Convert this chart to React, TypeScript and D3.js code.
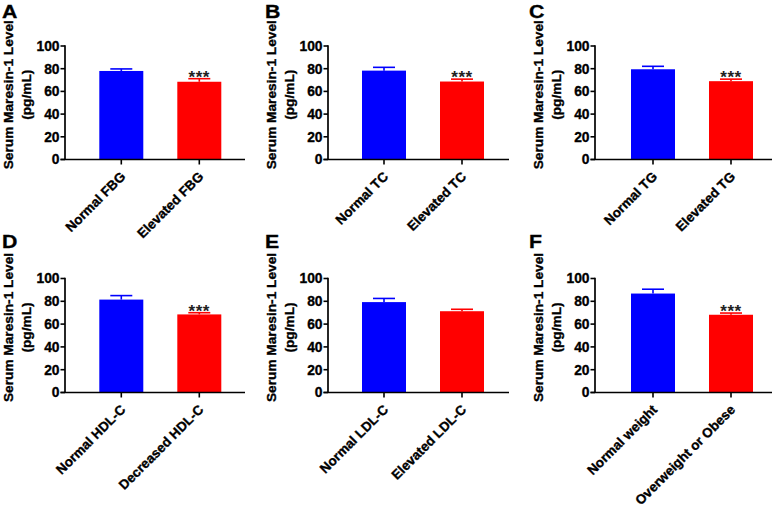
import React from 'react';
import * as d3 from 'd3';

// ---- Data ----
const panelLetters = ['A', 'B', 'C', 'D', 'E', 'F'];
const normalLabels = ['Normal FBG', 'Normal TC', 'Normal TG', 'Normal HDL-C', 'Normal LDL-C', 'Normal weight'];
const abnormalLabels = ['Elevated FBG', 'Elevated TC', 'Elevated TG', 'Decreased HDL-C', 'Elevated LDL-C', 'Overweight or Obese'];
const normalMeans = [78, 78.3, 79.5, 81.5, 79.3, 86.8];
const normalErrors = [1.8, 2.9, 2.6, 3.5, 3.2, 3.8];
const abnormalMeans = [68.5, 68.7, 69, 68.5, 71.3, 68.2];
const abnormalErrors = [2.7, 2.1, 1.8, 1.5, 1.7, 1.5];
const significance = ['***', '***', '***', '***', '', '***'];
const yTickValues = [0, 20, 40, 60, 80, 100];
const yTitleLine1 = 'Serum Maresin-1 Level';
const yTitleLine2 = '(pg/mL)';

// ---- Layout ----
const W = 778;
const H = 509;
const FONT = "'Liberation Sans', Arial, Helvetica, sans-serif";
const colAxisX = [65, 328, 595];
const colBarStart = [99.3, 362, 631];
const colAxisEnd = [245, 509, 772];
const colLetterX = [2, 265, 529];
const rowY100 = [46, 278.5];
const rowY0 = [159.5, 392.5];
const rowLetterY = [18.3, 248];
const BLUE = '#0000FF';
const RED = '#FF0000';
const TEXT_STROKE = { stroke: '#000', strokeWidth: 0.35 } as const;

function Panel({ i }: { i: number }) {
  const col = i % 3;
  const row = Math.floor(i / 3);
  const axisX = colAxisX[col];
  const axisEnd = colAxisEnd[col];
  const y = d3.scaleLinear().domain([0, 100]).range([rowY0[row], rowY100[row]]);
  const cats = [normalLabels[i], abnormalLabels[i]];
  const start = colBarStart[col] - 17;
  const x = d3
    .scaleBand<string>()
    .domain(cats)
    .range([start, start + 156])
    .paddingInner(0.436)
    .paddingOuter(0.218);
  const means = [normalMeans[i], abnormalMeans[i]];
  const errs = [normalErrors[i], abnormalErrors[i]];
  const colors = [BLUE, RED];
  const y0 = y(0);
  const plotCenter = (y(0) + y(100)) / 2 - 8;
  const bw = x.bandwidth();

  return (
    <g>
      <text
        transform={`translate(${colLetterX[col]},${rowLetterY[row]}) scale(1.12,1)`}
        fontFamily={FONT}
        fontWeight="bold"
        fontSize={19}
        fill="#000"
        {...TEXT_STROKE}
      >
        {panelLetters[i]}
      </text>
      {/* y title */}
      <g fontFamily={FONT} fontWeight="bold" fontSize={13.7} fill="#000" textAnchor="middle" {...TEXT_STROKE}>
        <text transform={`translate(${axisX - 52},${plotCenter}) rotate(-90)`}>{yTitleLine1}</text>
        <text transform={`translate(${axisX - 34},${plotCenter}) rotate(-90)`}>{yTitleLine2}</text>
      </g>
      {/* bars */}
      {cats.map((c, k) => {
        const bx = x(c)!;
        const top = y(means[k]);
        const capY = y(means[k] + errs[k]);
        const cx = bx + bw / 2;
        return (
          <g key={c}>
            <line x1={cx} x2={cx} y1={top} y2={capY} stroke={colors[k]} strokeWidth={1.6} />
            <line x1={cx - bw / 4} x2={cx + bw / 4} y1={capY} y2={capY} stroke={colors[k]} strokeWidth={1.6} />
            <rect x={bx} y={top} width={bw} height={y0 - top} fill={colors[k]} />
            {k === 1 && significance[i] ? (
              <text
                x={cx}
                y={capY + 4}
                textAnchor="middle"
                fontFamily={FONT}
                fontWeight="bold"
                fontSize={17}
                letterSpacing={0.5}
                fill="#222"
              >
                {significance[i]}
              </text>
            ) : null}
          </g>
        );
      })}
      {/* y axis */}
      <line x1={axisX} x2={axisX} y1={y(100) - 0.8} y2={y0} stroke="#000" strokeWidth={1.7} />
      {yTickValues.map((t) => (
        <g key={t}>
          <line x1={axisX - 4.5} x2={axisX} y1={y(t)} y2={y(t)} stroke="#000" strokeWidth={1.6} />
          <text
            x={axisX - 5.5}
            y={y(t)}
            dy="0.36em"
            textAnchor="end"
            fontFamily={FONT}
            fontWeight="bold"
            fontSize={13.8}
            fill="#000"
            {...TEXT_STROKE}
          >
            {t}
          </text>
        </g>
      ))}
      {/* x axis */}
      <line x1={axisX - 4.5} x2={axisEnd} y1={y0} y2={y0} stroke="#000" strokeWidth={1.7} />
      {cats.map((c) => {
        const cx = x(c)! + bw / 2;
        return (
          <g key={c}>
            <line x1={cx} x2={cx} y1={y0} y2={y0 + 5} stroke="#000" strokeWidth={1.6} />
            <text
              transform={`translate(${cx + 5},${y0 + 18}) rotate(-45)`}
              textAnchor="end"
              fontFamily={FONT}
              fontWeight="bold"
              fontSize={13.4}
              fill="#000"
              {...TEXT_STROKE}
            >
              {c}
            </text>
          </g>
        );
      })}
    </g>
  );
}

export default function App() {
  return (
    <svg
      width={W}
      height={H}
      viewBox={`0 0 ${W} ${H}`}
      style={{ position: 'absolute', left: 0, top: 0, display: 'block' }}
    >
      <rect x={0} y={0} width={W} height={H} fill="#fff" />
      {panelLetters.map((_, i) => (
        <Panel key={i} i={i} />
      ))}
    </svg>
  );
}
